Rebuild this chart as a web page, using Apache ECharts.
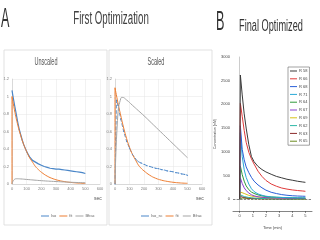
<!DOCTYPE html>
<html>
<head>
<meta charset="utf-8">
<script src="https://cdn.jsdelivr.net/npm/echarts@6/dist/echarts.min.js"></script>
<style>
html,body{margin:0;padding:0;background:#fff;}
#main{width:320px;height:240px;}
</style>
</head>
<body>
<div id="main"></div>
<script>
// ---- panel A, unscaled (time in sec) ----
var isoT = [0,10,20,30,40,50,60,70,80,90,100,110,120,130,140,150,160,170,180,190,200,210,220,230,240,250,260,270,280,290,300,310,320,330,340,350,360,370,380,390,400,410,420,430,440,450,460,470,480,490,500];
var isoRaw = [1.07,0.97,0.88,0.79,0.70,0.62,0.56,0.50,0.45,0.41,0.37,0.34,0.31,0.29,0.27,0.255,0.25,0.235,0.23,0.22,0.215,0.21,0.20,0.205,0.19,0.19,0.18,0.185,0.175,0.18,0.17,0.165,0.17,0.16,0.165,0.155,0.16,0.15,0.155,0.145,0.15,0.14,0.145,0.135,0.14,0.13,0.135,0.125,0.13,0.12,0.12];
var fitT = [0,0,20,40,60,80,100,120,140,160,180,200,240,280,320,360,400,450,500];
var fitRaw = [0,1.0,0.82,0.67,0.55,0.45,0.37,0.30,0.25,0.20,0.165,0.135,0.09,0.06,0.04,0.027,0.018,0.011,0.007];
var bfT = [0,10,30,60,100,150,200,300,400,500];
var bfRaw = [0,0.04,0.06,0.058,0.052,0.045,0.038,0.028,0.02,0.014];

// ---- panel A, scaled ----
var isoScT = [0,10,20,40,60,80,100,120,140,160,180,200,220,240,260,280,300,320,340,360,380,400,420,440,460,480,500];
var isoSc = [0,0.96,0.90,0.74,0.60,0.49,0.41,0.34,0.29,0.255,0.24,0.225,0.21,0.20,0.19,0.18,0.175,0.165,0.16,0.15,0.145,0.14,0.13,0.125,0.115,0.11,0.10];
var fitSc = [0,1.1,0.93,0.78,0.64,0.52,0.42,0.34,0.28,0.22,0.18,0.15,0.10,0.066,0.044,0.03,0.02,0.012,0.008];
var bfScT = [0,20,40,50,80,120,160,200,250,300,350,400,450,500];
var bfSc = [0,0.8,0.98,0.99,0.96,0.90,0.84,0.78,0.70,0.62,0.54,0.46,0.38,0.30];

// ---- panel B, final optimized (time in min) ----
var tB = [0,0.06,0.2,0.35,0.5,0.7,0.9,1.1,1.4,1.7,2.0,2.4,2.8,3.2,3.6,4.0,4.4,4.8,5.0];
var bNames = ['R 58','R 66','R 68','R 71','R 64','R 67','R 69','R 62','R 63','R 65'];
var bColors = ['#3a3a3a','#e03a3a','#2a5fd8','#27a9d6','#2f9a3a','#8a3fd0','#d8c21a','#2bb7a6','#8b2a2a','#6a8a1e'];
var b1 = [0,2620,2200,1800,1500,1150,900,790,690,625,575,525,480,450,420,400,378,362,355];
var b2 = [0,2020,1750,1450,1200,990,850,740,590,480,395,320,272,235,212,195,182,172,166];
var b3 = [0,1550,1050,830,680,560,460,380,300,240,190,145,118,96,82,72,66,62,60];
var b4 = [0,1400,900,620,460,320,220,160,110,82,62,48,40,36,32,30,28,27,26];
var b5 = [0,700,520,380,280,200,150,120,90,70,55,45,40,35,30,28,26,25,24];
var b6 = [0,450,330,240,180,130,92,70,50,40,32,26,22,20,18,16,15,14,14];
var b7 = [0,150,140,120,100,80,65,55,45,38,32,25,20,18,15,12,10,10,8];
var b8 = [0,90,70,55,45,35,28,22,18,15,12,10,9,8,8,7,6,6,6];
var b9 = [0,55,45,35,28,22,18,15,12,10,9,8,7,6,6,5,5,5,5];
var b10 = [0,30,25,20,16,13,11,9,8,7,6,5,5,4,4,4,3,3,3];
var bSeries = [b1,b2,b3,b4,b5,b6,b7,b8,b9,b10];
var bTicksX = [0,1,2,3,4,5];
var bTicksY = [0,500,1000,1500,2000,2500,3000];

function zip(t, v){
	var out = [];
	for(var i = 0; i < v.length; i++){ out.push([t[i], v[i]]); }
	return out;
}

var chart = echarts.init(document.getElementById('main'));

var gridLine = {show:true, lineStyle:{color:'#e4e4e4', width:0.5}};
var smallLab = {fontSize:4, color:'#808080', margin:3, fontFamily:'Liberation Sans'};

function aX(idx){
	return {gridIndex:idx, type:'value', min:0, max:600, interval:100,
		axisLine:{show:true, lineStyle:{color:'#c8c8c8', width:0.6}},
		axisTick:{show:false}, axisLabel:smallLab, splitLine:gridLine,
		name:'sec', nameLocation:'end', nameGap:-6,
		nameTextStyle:{fontSize:5, color:'#555', verticalAlign:'top', padding:[12,0,0,0]}};
}
function aY(idx){
	return {gridIndex:idx, type:'value', min:0, max:1.2, interval:0.2,
		axisLine:{show:true, lineStyle:{color:'#c8c8c8', width:0.6}},
		axisTick:{show:false}, axisLabel:smallLab, splitLine:gridLine};
}

var series = [
	{name:'Iso', type:'line', xAxisIndex:0, yAxisIndex:0, data:zip(isoT, isoRaw), symbol:'none',
		lineStyle:{color:'#4a86c8', width:1.2}, itemStyle:{color:'#4a86c8'}},
	{name:'fit', type:'line', xAxisIndex:0, yAxisIndex:0, data:zip(fitT, fitRaw), symbol:'none', smooth:true,
		lineStyle:{color:'#ed7d31', width:1}, itemStyle:{color:'#ed7d31'}},
	{name:'Bfrac', type:'line', xAxisIndex:0, yAxisIndex:0, data:zip(bfT, bfRaw), symbol:'none', smooth:true,
		lineStyle:{color:'#a5a5a5', width:1}, itemStyle:{color:'#a5a5a5'}},
	{name:'Iso_sc', type:'line', xAxisIndex:1, yAxisIndex:1, data:zip(isoScT, isoSc), symbol:'circle', symbolSize:1.2,
		lineStyle:{color:'#4a86c8', width:0.9, type:'dashed'}, itemStyle:{color:'#4a86c8'}},
	{name:'fit ', type:'line', xAxisIndex:1, yAxisIndex:1, data:zip(fitT, fitSc), symbol:'none', smooth:true,
		lineStyle:{color:'#ed7d31', width:1}, itemStyle:{color:'#ed7d31'}},
	{name:'Bfrac ', type:'line', xAxisIndex:1, yAxisIndex:1, data:zip(bfScT, bfSc), symbol:'none', smooth:true,
		lineStyle:{color:'#a5a5a5', width:1}, itemStyle:{color:'#a5a5a5'}}
];

for(var k = 0; k < bSeries.length; k++){
	var s = {name:bNames[k], type:'line', xAxisIndex:2, yAxisIndex:2, data:zip(tB, bSeries[k]),
		symbol:'none', lineStyle:{color:bColors[k], width:1}, itemStyle:{color:bColors[k]}, z:20-k};
	if(k === 0){
		s.markLine = {silent:true, symbol:'none', label:{show:false},
			lineStyle:{type:'dashed', color:'#333', width:0.6}, data:[{yAxis:0}]};
	}
	series.push(s);
}

var option = {
	backgroundColor:'#ffffff',
	animation:false,
	graphic:[
		{type:'rect', shape:{x:4, y:50, width:103, height:175}, style:{fill:'#fff', stroke:'#d9d9d9', lineWidth:0.8}},
		{type:'rect', shape:{x:109, y:50, width:103, height:175}, style:{fill:'#fff', stroke:'#d9d9d9', lineWidth:0.8}},
		{type:'text', x:1, y:5, scaleX:0.45, style:{text:'A', font:'28px "Liberation Sans"', fill:'#333', textVerticalAlign:'top'}},
		{type:'text', x:111, y:10, scaleX:0.54, style:{text:'First Optimization', font:'18px "Liberation Sans"', fill:'#404040', textAlign:'center', textVerticalAlign:'top'}},
		{type:'text', x:216, y:8, scaleX:0.45, style:{text:'B', font:'28px "Liberation Sans"', fill:'#333', textVerticalAlign:'top'}},
		{type:'text', x:271, y:18, scaleX:0.54, style:{text:'Final Optimized', font:'17px "Liberation Sans"', fill:'#333', textAlign:'center', textVerticalAlign:'top'}},
		{type:'text', x:46, y:56, scaleX:0.5, style:{text:'Unscaled', font:'11px "Liberation Sans"', fill:'#555', textAlign:'center', textVerticalAlign:'top'}},
		{type:'text', x:156, y:56, scaleX:0.5, style:{text:'Scaled', font:'11px "Liberation Sans"', fill:'#555', textAlign:'center', textVerticalAlign:'top'}}
	],
	grid:[
		{left:12, top:79, width:88, height:105},
		{left:115, top:79, width:87, height:105},
		{left:233, top:57, width:79, height:154}
	],
	legend:[
		{data:['Iso','fit','Bfrac'], left:36, top:209, icon:'rect', itemWidth:8, itemHeight:1, itemGap:3,
			textStyle:{fontSize:4, color:'#666', padding:[0,0,0,-3]}},
		{data:['Iso_sc','fit ','Bfrac '], left:136, top:209, icon:'rect', itemWidth:8, itemHeight:1, itemGap:3,
			textStyle:{fontSize:4, color:'#666', padding:[0,0,0,-3]}},
		{data:bNames, orient:'vertical', left:288, top:67, icon:'rect', itemWidth:7, itemHeight:1, itemGap:3.8, padding:[2,2,2,2],
			borderColor:'#444', borderWidth:0.5, textStyle:{fontSize:4, color:'#444', padding:[0,0,0,-3]}}
	],
	xAxis:[
		aX(0), aX(1),
		{gridIndex:2, type:'value', min:-0.5, max:5.5,
			axisLine:{show:true, onZero:false, lineStyle:{color:'#333', width:0.6}},
			axisTick:{show:true, customValues:bTicksX, length:2, lineStyle:{color:'#333', width:0.5}},
			axisLabel:{fontSize:4, color:'#444', margin:3, customValues:bTicksX},
			splitLine:{show:false},
			name:'Time (min)', nameLocation:'middle', nameGap:15,
			nameTextStyle:{fontSize:4, color:'#444'}}
	],
	yAxis:[
		aY(0), aY(1),
		{gridIndex:2, type:'value', min:-250, max:3000,
			axisLine:{show:true, lineStyle:{color:'#999', width:0.5}},
			axisTick:{show:false},
			axisLabel:{fontSize:4, color:'#444', margin:3, customValues:bTicksY,
				formatter:function(v){ return String(v); }},
			splitLine:{show:false},
			name:'Concentration (nM)', nameLocation:'middle', nameGap:12,
			nameTextStyle:{fontSize:3.5, color:'#444'}}
	],
	series:series
};

chart.setOption(option);
</script>
</body>
</html>
